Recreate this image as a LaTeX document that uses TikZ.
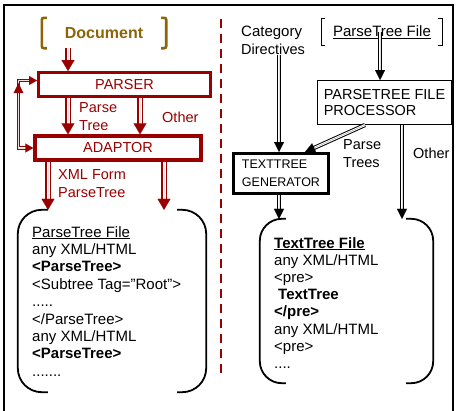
\documentclass[tikz,border=0pt]{standalone}
\usepackage{fontspec}
\setmainfont{Liberation Sans}
\usetikzlibrary{arrows.meta}
\definecolor{dred}{RGB}{153,0,0}
\definecolor{gold}{RGB}{139,101,8}
\newcommand{\myfs}[2]{\fontsize{#1}{#2}\selectfont}
\newcommand{\sq}{\char34 }
\begin{document}
\begin{tikzpicture}[x=1pt,y=-1pt,
  lbl/.style={inner sep=0pt, font=\myfs{14.5}{18}, align=left},
  rlbl/.style={lbl, text=dred},
  dtext/.style={inner sep=0pt, anchor=base west, font=\myfs{15}{17}},
  redbox/.style={draw=dred, fill=white, text=dred, inner sep=0pt, font=\myfs{14.5}{17}},
  blkbox/.style={draw=black, fill=white, inner sep=0pt, align=left},
  docline/.style={draw=black, line width=1.8pt},
  redarr/.style={draw=dred, line width=0.01pt, -{Triangle[width=13pt,length=11pt]},
     preaction={draw=dred, double=white, double distance=3pt, line width=1.2pt, arrows=-, shorten >=9pt}},
  redloop/.style={draw=dred, line width=0.01pt, {Triangle[width=9pt,length=8pt]}-{Triangle[width=9pt,length=8pt]},
     preaction={draw=dred, double=white, double distance=1.8pt, line width=1pt, arrows=-, shorten >=6pt, shorten <=6pt}},
  blkarr/.style={draw=black, line width=0.01pt, -{Triangle[width=10pt,length=10pt]},
     preaction={draw=black, double=white, double distance=2.2pt, line width=1pt, arrows=-, shorten >=8pt}},
]
\useasboundingbox (0,0) rectangle (458,410);
\fill[white] (0,0) rectangle (458,410);
% frame
\draw[line width=2pt] (4,412) -- (4,5) -- (453,5) -- (453,412);
% dashed divider
\draw[dred, line width=2.6pt, dash pattern=on 9pt off 6pt] (221,19) -- (221,376);

% x-coordinates for connectors
\coordinate (xa) at (68,0);
\coordinate (xb) at (140,0);
\coordinate (xc) at (48,0);
\coordinate (xd) at (164,0);
\coordinate (xe) at (380,0);
\coordinate (xf) at (279,0);
\coordinate (xg) at (365,0);
\coordinate (xh) at (305,0);
\coordinate (xi) at (402,0);

% ---------- left side ----------
\node[inner sep=0pt, minimum width=124pt, minimum height=30pt, text=gold, font=\bfseries\myfs{16}{18}] (docu) at (104,33) {Document};
\draw[gold, line width=2.6pt, rounded corners=2pt] ([xshift=5pt]docu.north west) -- (docu.north west) -- (docu.south west) -- ([xshift=5pt]docu.south west);
\draw[gold, line width=2.6pt, rounded corners=2pt] ([xshift=-5pt]docu.north east) -- (docu.north east) -- (docu.south east) -- ([xshift=-5pt]docu.south east);

\node[redbox, line width=3pt, minimum width=172pt, minimum height=24pt] (parser) at (124.5,84.5) {PARSER};
\node[redbox, line width=3.5pt, minimum width=166pt, minimum height=24pt] (adaptor) at (118,148) {ADAPTOR};

\node[inner sep=0pt, minimum width=188pt, minimum height=182pt] (ldoc) at (112,301) {};
\draw[docline, rounded corners=24pt] ([xshift=30pt]ldoc.north west) -- (ldoc.north west) -- (ldoc.south west) -- ([xshift=30pt]ldoc.south west);
\draw[docline, rounded corners=24pt] ([xshift=-29pt]ldoc.north east) -- (ldoc.north east) -- (ldoc.south east) -- ([xshift=-29pt]ldoc.south east);

\draw[redarr] (xa |- docu.south) -- (xa |- parser.north);
\draw[redarr] (xa |- parser.south) -- (xa |- adaptor.north);
\draw[redarr] (xb |- parser.south) -- (xb |- adaptor.north);
\draw[redarr] (xc |- adaptor.south) -- (xc |- ldoc.north);
\draw[redarr] (xd |- adaptor.south) -- (xd |- ldoc.north);
\draw[redloop] ([yshift=4pt]parser.west) -- ++(-18.5,0) |- (adaptor.west);
\fill[dred] (13.5,93) -- (23.5,93) -- (18.5,83) -- cycle;

\node[rlbl, anchor=west] (pt) at (79,117) {Parse\\Tree};
\node[rlbl, anchor=west] (oth) at (162,117) {Other};
\node[rlbl, anchor=west] (xml) at (58,184) {XML Form\\ParseTree};

\node[dtext] (l1) at (32,237) {\underline{ParseTree File}};
\node[dtext] (l2) at (32,254.4) {any XML/HTML};
\node[dtext] (l3) at (32,271.8) {\bfseries <ParseTree>};
\node[dtext] (l4) at (32,289.2) {<Subtree Tag=\sq Root\sq>};
\node[dtext] (l5) at (32,306.6) {.....};
\node[dtext] (l6) at (32,324) {</ParseTree>};
\node[dtext] (l7) at (32,341.4) {any XML/HTML};
\node[dtext] (l8) at (32,358.8) {\bfseries <ParseTree>};
\node[dtext] (l9) at (32,376.2) {.......};

% ---------- right side ----------
\node[lbl, anchor=west] (cat) at (241,40) {\myfs{15}{16}Category\\Directives};
\node[inner sep=0pt, minimum width=120pt, minimum height=26pt, font=\myfs{15}{17}] (ptf) at (382,32) {\underline{ParseTree File}};
\draw[line width=1.2pt] ([xshift=3.5pt]ptf.north west) -- (ptf.north west) -- (ptf.south west) -- ([xshift=3.5pt]ptf.south west);
\draw[line width=1.2pt] ([xshift=-4pt]ptf.north east) -- (ptf.north east) -- (ptf.south east) -- ([xshift=-4pt]ptf.south east);

\node[blkbox, line width=1pt, minimum width=134pt, minimum height=44pt, font=\myfs{14.5}{16}] (proc) at (384.5,102.5) {PARSETREE FILE\\PROCESSOR};
\node[blkbox, line width=3pt, minimum width=95pt, minimum height=40pt, font=\myfs{12.5}{18}] (gen) at (281,173.5) {TEXTTREE\\GENERATOR};

\node[inner sep=0pt, minimum width=173pt, minimum height=164pt] (rdoc) at (346.5,301) {};
\draw[docline, rounded corners=22pt] ([xshift=26pt]rdoc.north west) -- (rdoc.north west) -- (rdoc.south west) -- ([xshift=26pt]rdoc.south west);
\draw[docline, rounded corners=22pt] ([xshift=-27pt]rdoc.north east) -- (rdoc.north east) -- (rdoc.south east) -- ([xshift=-27pt]rdoc.south east);

\draw[blkarr] (xe |- ptf.center) -- (xe |- proc.north);
\draw[blkarr] (xf |- cat.south) -- (xf |- gen.north);
\draw[blkarr] (xg |- proc.south) -- (xh |- gen.north);
\draw[blkarr] (xi |- proc.south) -- (xi |- rdoc.north);
\draw[blkarr] (xf |- gen.south) -- (xf |- rdoc.north);

\node[lbl, anchor=west] (ptr) at (343,153.5) {\myfs{14.5}{17}Parse\\Trees};
\node[lbl, anchor=west] (oth2) at (413,153) {Other};

\node[dtext] (r1) at (274,248) {\bfseries\underline{TextTree File}};
\node[dtext] (r2) at (274,265.2) {any XML/HTML};
\node[dtext] (r3) at (274,282.4) {<pre>};
\node[dtext] (r4) at (278,299.6) {\bfseries TextTree};
\node[dtext] (r5) at (274,316.8) {\bfseries </pre>};
\node[dtext] (r6) at (274,334) {any XML/HTML};
\node[dtext] (r7) at (274,351.2) {<pre>};
\node[dtext] (r8) at (274,368.4) {....};
\end{tikzpicture}
\end{document}
